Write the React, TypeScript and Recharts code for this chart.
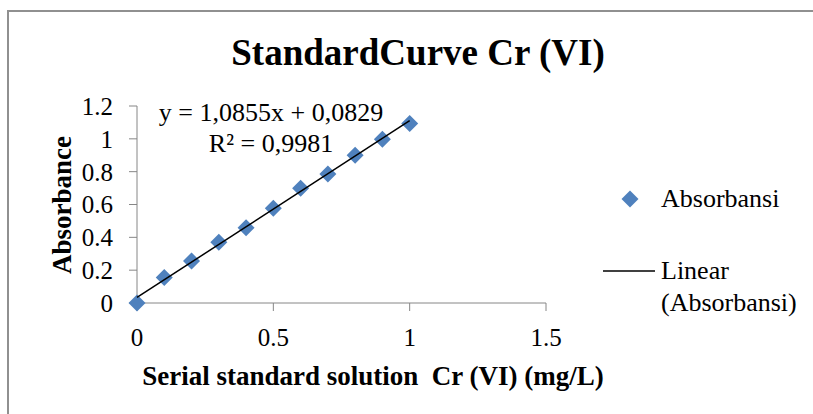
import React from 'react';
import { ScatterChart, Scatter, XAxis, YAxis } from 'recharts';

const concentration = [0, 0.1, 0.2, 0.3, 0.4, 0.5, 0.6, 0.7, 0.8, 0.9, 1.0];
const absorbansi = [0, 0.155, 0.256, 0.37, 0.459, 0.577, 0.699, 0.786, 0.9, 0.997, 1.094];
const xTicks = [0, 0.5, 1, 1.5];
const yTicks = [0, 0.2, 0.4, 0.6, 0.8, 1, 1.2];

const points = concentration.map((x, i) => ({ x, y: absorbansi[i] }));

// least squares trendline over the measured points
const n = points.length;
const mx = concentration.reduce((s, v) => s + v, 0) / n;
const my = absorbansi.reduce((s, v) => s + v, 0) / n;
const slope =
  points.reduce((s, p) => s + (p.x - mx) * (p.y - my), 0) /
  points.reduce((s, p) => s + (p.x - mx) ** 2, 0);
const intercept = my - slope * mx;
const xMin = concentration[0];
const xMax = concentration[concentration.length - 1];
const trend = [
  { x: xMin, y: intercept + slope * xMin },
  { x: xMax, y: intercept + slope * xMax },
];

const serif = "'Liberation Serif', 'Times New Roman', serif";
const axisGray = '#868686';
const blue = '#4F81BD';

const Diamond = (props: any) => {
  const { cx, cy } = props;
  if (cx == null || cy == null) return null;
  const r = 8.5;
  return (
    <polygon
      points={`${cx},${cy - r} ${cx + r},${cy} ${cx},${cy + r} ${cx - r},${cy}`}
      fill={blue}
    />
  );
};

const NoShape = () => null;

export default function App() {
  return (
    <div style={{ position: 'absolute', left: 0, top: 0, width: 813, height: 414, overflow: 'hidden', background: '#fff', fontFamily: serif }}>
      <div
        style={{
          position: 'absolute', left: 7, top: 10, width: 830, height: 430,
          borderTop: '2px solid #909090', borderLeft: '2px solid #909090', boxSizing: 'border-box',
        }}
      />
      <ScatterChart width={813} height={414} margin={{ top: 106, right: 267, bottom: 51, left: 77 }}>
        <XAxis
          type="number"
          dataKey="x"
          domain={[0, 1.5]}
          ticks={xTicks}
          interval={0}
          height={60}
          stroke={axisGray}
          tickSize={8}
          tickMargin={17}
          tick={{ fill: '#000', fontSize: 25, fontFamily: serif }}
        />
        <YAxis
          type="number"
          dataKey="y"
          domain={[0, 1.2]}
          ticks={yTicks}
          interval={0}
          width={60}
          stroke={axisGray}
          tickSize={8}
          tickMargin={16}
          tick={{ fill: '#000', fontSize: 25, fontFamily: serif }}
        />
        <Scatter data={points} shape={<Diamond />} isAnimationActive={false} />
        <Scatter
          data={trend}
          line={{ stroke: '#000', strokeWidth: 1.5 }}
          shape={<NoShape />}
          isAnimationActive={false}
        />
      </ScatterChart>

      <div style={{ position: 'absolute', left: 118, width: 600, top: 31, textAlign: 'center', fontWeight: 'bold', fontSize: 37, lineHeight: '44px' }}>
        StandardCurve Cr (VI)
      </div>
      <div style={{ position: 'absolute', left: 121, width: 300, top: 97, textAlign: 'center', fontSize: 26, lineHeight: '31px' }}>
        y = 1,0855x + 0,0829
        <br />
        R² = 0,9981
      </div>
      <div
        style={{
          position: 'absolute', left: 62, top: 205, width: 0, height: 0,
        }}
      >
        <div style={{ position: 'absolute', transform: 'translate(-50%, -50%) rotate(-90deg)', whiteSpace: 'nowrap', fontWeight: 'bold', fontSize: 27 }}>
          Absorbance
        </div>
      </div>
      <div style={{ position: 'absolute', left: 73, width: 600, top: 360, textAlign: 'center', fontWeight: 'bold', fontSize: 27, lineHeight: '32px', whiteSpace: 'pre' }}>
        {'Serial standard solution  Cr (VI) (mg/L)'}
      </div>

      <svg style={{ position: 'absolute', left: 0, top: 0 }} width={813} height={414} pointerEvents="none">
        <polygon points="630,190.5 638.5,199 630,207.5 621.5,199" fill={blue} />
        <line x1={603} y1={271} x2={655} y2={271} stroke="#000" strokeWidth={1.5} />
      </svg>
      <div style={{ position: 'absolute', left: 661, top: 183, fontSize: 26, lineHeight: '32px' }}>Absorbansi</div>
      <div style={{ position: 'absolute', left: 661, top: 255, fontSize: 26, lineHeight: '32px' }}>
        Linear
        <br />
        (Absorbansi)
      </div>
    </div>
  );
}
